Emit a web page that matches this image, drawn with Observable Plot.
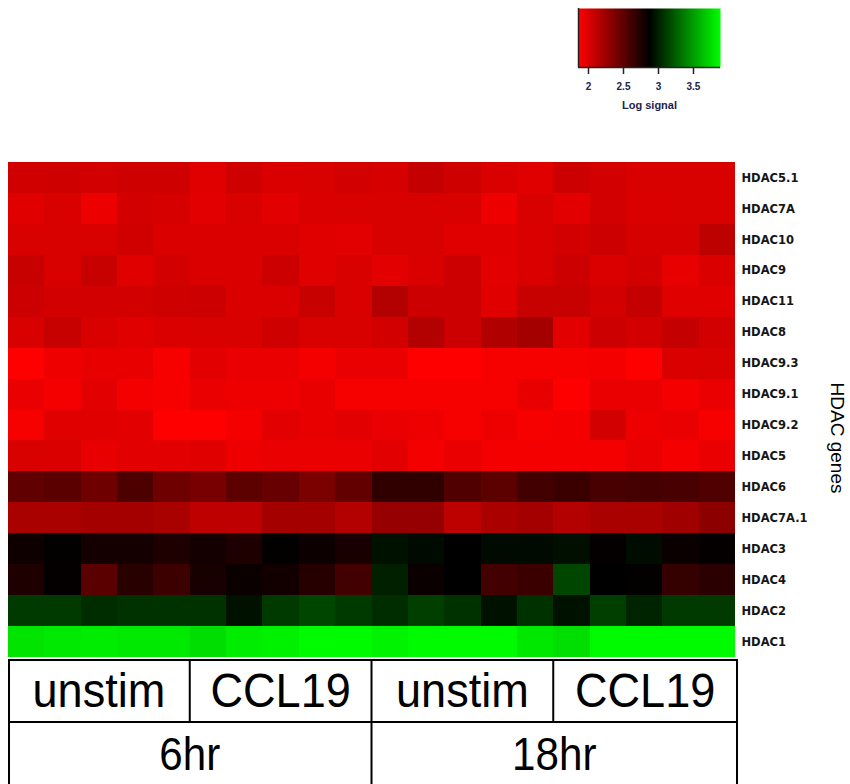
<!DOCTYPE html>
<html>
<head>
<meta charset="utf-8">
<script src="https://cdn.jsdelivr.net/npm/d3@7"></script>
<script src="https://cdn.jsdelivr.net/npm/@observablehq/plot@0.6"></script>
<style>
  html, body { margin: 0; padding: 0; background: #fff; }
  #wrap { position: relative; width: 850px; height: 784px; overflow: hidden; }
  #wrap svg { position: absolute; left: 0; top: 0; background: transparent; }
</style>
</head>
<body>
<div id="wrap"></div>
<script>
// ---- data ----
const genes = ["HDAC5.1","HDAC7A","HDAC10","HDAC9","HDAC11","HDAC8","HDAC9.3","HDAC9.1","HDAC9.2","HDAC5","HDAC6","HDAC7A.1","HDAC3","HDAC4","HDAC2","HDAC1"];
const samples = ["6h-U1","6h-U2","6h-U3","6h-U4","6h-U5","6h-C1","6h-C2","6h-C3","6h-C4","6h-C5",
                 "18h-U1","18h-U2","18h-U3","18h-U4","18h-U5","18h-C1","18h-C2","18h-C3","18h-C4","18h-C5"];
const conditions = ["unstim","CCL19","unstim","CCL19"];
const times = ["6hr","18hr"];
const legendTicks = [2, 2.5, 3, 3.5];
const legendLabel = "Log signal";
const axisTitle = "HDAC genes";

const hdac5_1  = [2.04,2.05,2.03,2.05,2.05,1.98,2.05,2.00,2.01,2.03, 2.02,2.09,2.05,2.00,1.98,2.06,2.03,2.01,2.01,2.01];
const hdac7a   = [1.98,2.01,1.93,2.03,2.02,1.97,2.01,1.97,2.00,2.01, 2.01,2.01,2.01,1.92,2.01,1.97,2.03,2.00,2.01,2.01];
const hdac10   = [2.01,2.01,2.01,2.04,2.00,2.00,2.00,2.00,1.98,1.97, 2.01,2.01,1.98,1.98,2.00,2.03,2.06,2.02,2.02,2.12];
const hdac9    = [2.08,2.01,2.08,1.98,2.03,2.00,2.00,2.06,1.98,2.01, 1.97,2.00,2.06,1.97,2.00,2.06,2.00,2.03,1.95,2.00];
const hdac11   = [2.06,2.03,2.03,2.03,2.05,2.06,2.00,2.00,2.08,2.01, 2.16,2.06,2.06,1.98,2.08,2.08,2.03,2.09,1.98,1.98];
const hdac8    = [2.01,2.08,2.01,1.98,2.00,2.01,2.01,2.05,2.01,2.01, 2.03,2.16,2.06,2.17,2.22,1.97,2.06,2.03,2.09,2.03];
const hdac9_3  = [1.86,1.92,1.95,1.95,1.89,1.97,1.94,1.94,1.90,1.94, 1.94,1.86,1.86,1.89,1.89,1.89,1.90,1.86,2.00,2.01];
const hdac9_1  = [1.94,1.90,1.97,1.90,1.89,1.94,1.92,1.92,1.95,1.89, 1.89,1.89,1.89,1.89,1.95,1.86,1.94,1.94,1.90,1.94];
const hdac9_2  = [1.89,1.98,1.98,1.97,1.86,1.86,1.90,1.97,1.95,1.97, 1.94,1.92,1.89,1.92,1.89,1.90,2.03,1.92,1.94,1.89];
const hdac5    = [2.01,2.00,1.95,1.97,1.97,1.98,1.92,1.94,1.94,1.94, 1.97,1.90,1.94,1.90,1.90,1.90,1.90,1.94,1.90,1.94];
const hdac6    = [2.49,2.51,2.43,2.57,2.43,2.39,2.50,2.46,2.38,2.48, 2.68,2.68,2.55,2.50,2.61,2.64,2.58,2.60,2.58,2.55];
const hdac7a_1 = [2.20,2.20,2.22,2.22,2.20,2.11,2.11,2.22,2.22,2.16, 2.27,2.27,2.12,2.19,2.22,2.16,2.20,2.20,2.23,2.31];
const hdac3    = [2.81,2.86,2.79,2.79,2.75,2.79,2.75,2.86,2.82,2.77, 2.94,2.91,2.87,2.91,2.91,2.93,2.85,2.92,2.83,2.85];
const hdac4    = [2.75,2.85,2.51,2.71,2.63,2.77,2.83,2.80,2.72,2.61, 3.00,2.83,2.87,2.61,2.64,3.15,2.87,2.86,2.66,2.70];
const hdac2    = [3.10,3.10,3.05,3.07,3.07,3.07,2.94,3.10,3.15,3.10, 3.05,3.12,3.07,2.94,3.07,2.94,3.12,3.01,3.10,3.10];
const hdac1    = [3.78,3.80,3.81,3.80,3.80,3.75,3.81,3.83,3.87,3.87, 3.84,3.87,3.87,3.87,3.79,3.76,3.87,3.87,3.87,3.87];

const rows = [hdac5_1,hdac7a,hdac10,hdac9,hdac11,hdac8,hdac9_3,hdac9_1,hdac9_2,hdac5,hdac6,hdac7a_1,hdac3,hdac4,hdac2,hdac1];
const data = [];
genes.forEach((g, i) => rows[i].forEach((v, j) => data.push({gene: g, sample: samples[j], value: v})));

const colorLo = 1.857, colorMid = 2.871, colorHi = 3.886;
const colorScale = {type: "linear", domain: [colorLo, colorMid, colorHi], range: ["#ff0000", "#000000", "#00ff00"], interpolate: "rgb", clamp: true};

const wrap = document.getElementById("wrap");

// ---- main heatmap ----
const chart = Plot.plot({
  width: 850, height: 784,
  marginLeft: 8, marginRight: 115, marginTop: 162, marginBottom: 127,
  x: {domain: samples, padding: 0, round: false, axis: null},
  y: {domain: genes, padding: 0, round: false, axis: null},
  color: colorScale,
  style: {background: "transparent", fontFamily: "'Liberation Sans', Arial, sans-serif"},
  marks: [
    Plot.cell(data, {x: "sample", y: "gene", fill: "value", inset: 0, shapeRendering: "crispEdges"}),
    Plot.axisY({anchor: "right", tickSize: 0, tickPadding: 6, label: null,
                fontSize: 11.5, fontWeight: "bold", fontFamily: "'DejaVu Sans', sans-serif", fill: "#151515"})
  ]
});
wrap.appendChild(chart);

const xs = chart.scale("x"), ys = chart.scale("y");
const bw = xs.bandwidth, rh = ys.bandwidth;
const left = xs.apply(samples[0]);
const right = xs.apply(samples[samples.length - 1]) + bw + 2;
const heatBottom = ys.apply(genes[genes.length - 1]) + rh;
const heatTop = ys.apply(genes[0]);
const tTop = heatBottom + 3, tMid = tTop + 62, tBot = 800;
const svg = d3.select(chart);
const g = svg.append("g").attr("stroke", "#000").attr("stroke-width", 2).attr("fill", "none");
g.append("rect").attr("x", left + 1).attr("y", tTop).attr("width", right - left - 1).attr("height", tBot - tTop);
g.append("line").attr("x1", left).attr("x2", right).attr("y1", tMid).attr("y2", tMid);
const gStart = k => xs.apply(samples[k * 5]);
const gEnd = k => (k === 3 ? right : xs.apply(samples[k * 5 + 5]));
[1, 3].forEach(k => g.append("line").attr("x1", gStart(k)).attr("x2", gStart(k)).attr("y1", tTop).attr("y2", tMid));
g.append("line").attr("x1", gStart(2)).attr("x2", gStart(2)).attr("y1", tTop).attr("y2", tBot);
const tg = svg.append("g").attr("font-family", "'Liberation Sans', Arial, sans-serif").attr("fill", "#000").attr("text-anchor", "middle");
conditions.forEach((c, k) => tg.append("text")
  .attr("transform", `translate(${(gStart(k) + gEnd(k)) / 2},${tTop + 47}) scale(0.98,1.06)`)
  .attr("font-size", 46).text(c));
times.forEach((t, k) => tg.append("text")
  .attr("transform", `translate(${(gStart(2 * k) + gEnd(2 * k + 1)) / 2},${tMid + 48}) scale(0.98,1.06)`)
  .attr("font-size", 43).text(t));
svg.append("text")
  .attr("transform", `translate(831,${heatTop + 276}) rotate(90)`)
  .attr("text-anchor", "middle").attr("font-size", 19)
  .attr("font-family", "'Liberation Sans', Arial, sans-serif").attr("fill", "#000")
  .text(axisTitle);

// ---- colour key ----
const legend = Plot.plot({
  width: 850, height: 120,
  marginLeft: 578, marginRight: 130, marginTop: 8, marginBottom: 53,
  x: {domain: [colorLo, colorHi], axis: null},
  y: {domain: [0, 1], axis: null},
  color: colorScale,
  style: {background: "transparent", fontFamily: "'Liberation Sans', Arial, sans-serif"},
  marks: [
    Plot.raster({fill: (x, y) => x, x1: colorLo, x2: colorHi, y1: 0, y2: 1, imageRendering: "auto"}),
    Plot.ruleX([colorLo], {stroke: "#222", strokeWidth: 1.5}),
    Plot.ruleY([0], {stroke: "#222", strokeWidth: 1.5}),
    Plot.axisX({ticks: legendTicks, tickSize: 7, tickPadding: 8, tickFormat: d => String(d), label: null,
                fontSize: 10, fontWeight: "bold", fill: "#23234a", stroke: "#222", strokeWidth: 1.5}),
    Plot.text([legendLabel], {frameAnchor: "bottom", dy: 41, fontSize: 11, fontWeight: "bold", fill: "#23234a"})
  ]
});
wrap.appendChild(legend);
</script>
</body>
</html>
